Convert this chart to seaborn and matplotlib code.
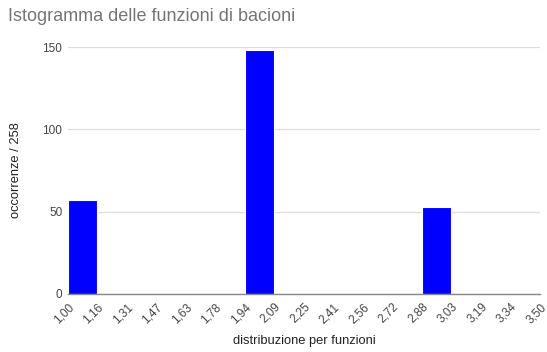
import matplotlib
matplotlib.use("Agg")
import matplotlib.pyplot as plt
import seaborn as sns

# bin edges and labels (as shown on the x axis)
edges = [1.00, 1.15625, 1.3125, 1.46875, 1.625, 1.78125, 1.9375, 2.09375, 2.25,
         2.40625, 2.5625, 2.71875, 2.875, 3.03125, 3.1875, 3.34375, 3.50]
edge_labels = ["1,00", "1,16", "1,31", "1,47", "1,63", "1,78", "1,94", "2,09", "2,25",
               "2,41", "2,56", "2,72", "2,88", "3,03", "3,19", "3,34", "3,50"]

# values falling in the non-empty bins and their counts
values = [1.08, 2.02, 2.95]
counts = [57, 148, 53]

sns.set_style("white")
plt.rcParams['font.family'] = ['Liberation Sans', 'DejaVu Sans']

fig = plt.figure(figsize=(5.47, 3.52), dpi=100)
ax = fig.add_axes([0.124, 0.165, 0.863, 0.701])

sns.histplot(x=values, weights=counts, bins=edges, color="#0000ff",
             alpha=1, edgecolor="white", linewidth=0.8, shrink=0.96, ax=ax)

ax.set_xlim(edges[0], edges[-1])
ax.set_ylim(0, 150)
ax.set_yticks([0, 50, 100, 150])
ax.set_xticks(edges)
ax.set_xticklabels(edge_labels, rotation=45, ha="right", rotation_mode="anchor")
ax.tick_params(axis="both", labelsize=8.5, colors="#444444", length=0, pad=4)
ax.tick_params(axis="x", pad=5)

ax.grid(axis="y", color="#dddddd", linewidth=0.9)
ax.set_axisbelow(True)
for s in ["top", "right", "left"]:
    ax.spines[s].set_visible(False)
ax.spines["bottom"].set_color("#888888")
ax.spines["bottom"].set_linewidth(1.0)

ax.set_xlabel("distribuzione per funzioni", fontsize=9.3, color="#222222", labelpad=7)
ax.set_ylabel("occorrenze / 258", fontsize=9.3, color="#222222", labelpad=15)

fig.text(0.015, 0.953, "Istogramma delle funzioni di bacioni", fontsize=13,
         color="#757575", ha="left", va="center")

plt.savefig("out.png", dpi=100)
plt.close()
